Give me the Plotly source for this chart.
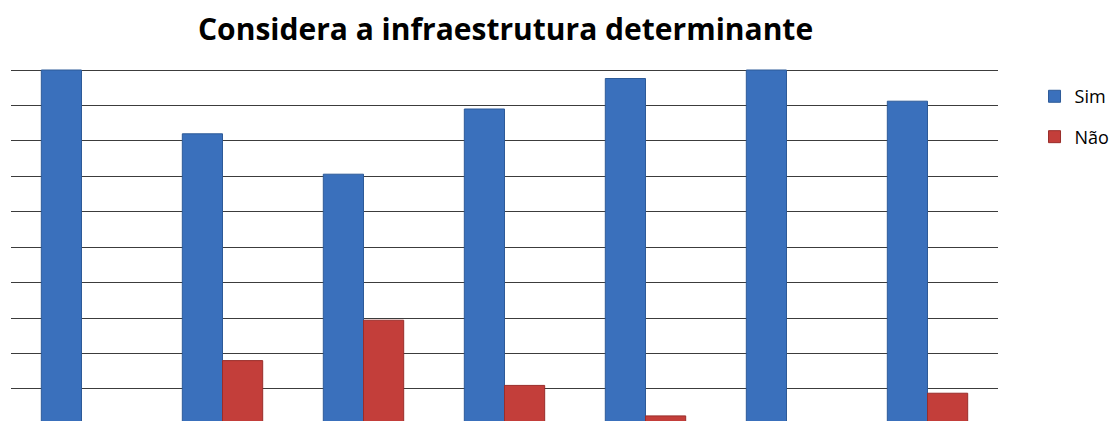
import plotly.graph_objects as go

# Survey groups (category labels fall below the visible plot area)
grupos = ["1", "2", "3", "4", "5", "6", "7"]
sim = [100.0, 82.0, 70.6, 89.0, 97.6, 100.0, 91.2]
nao = [0.0, 18.0, 29.4, 11.0, 2.4, 0.0, 8.8]

titulo = "Considera a infraestrutura determinante"

fig = go.Figure()
fig.add_trace(go.Bar(
    name="Sim", x=grupos, y=sim,
    marker=dict(color="#3a70bc", line=dict(color="#2d5a98", width=1)),
    legendgroup="a",
))
fig.add_trace(go.Bar(
    name="Não", x=grupos, y=nao,
    marker=dict(color="#c33e3a", line=dict(color="#992d2a", width=1)),
    legendgroup="b",
))

fig.update_layout(
    width=1116, height=421,
    margin=dict(l=11, r=118, t=66, b=0),
    paper_bgcolor="white", plot_bgcolor="white",
    barmode="group", bargap=0.43, bargroupgap=0,
    title=dict(
        text="<b>" + titulo + "</b>",
        font=dict(family="Open Sans, sans-serif", size=30, color="#000000"),
        x=0.453, xanchor="center", y=0.93, yanchor="middle",
    ),
    font=dict(family="Open Sans, sans-serif", color="#000000"),
    legend=dict(
        x=1.037, xanchor="left", y=0.966, yanchor="top",
        font=dict(size=18), tracegroupgap=14,
        bgcolor="rgba(0,0,0,0)",
    ),
    xaxis=dict(showticklabels=False, showgrid=False, zeroline=False,
               showline=False, ticks=""),
    yaxis=dict(range=[0.96, 101.13], dtick=10, tick0=0,
               showticklabels=False, showgrid=True,
               gridcolor="#3c3c3c", gridwidth=1,
               zeroline=False, showline=False, ticks=""),
)

fig.write_html("out.html")
